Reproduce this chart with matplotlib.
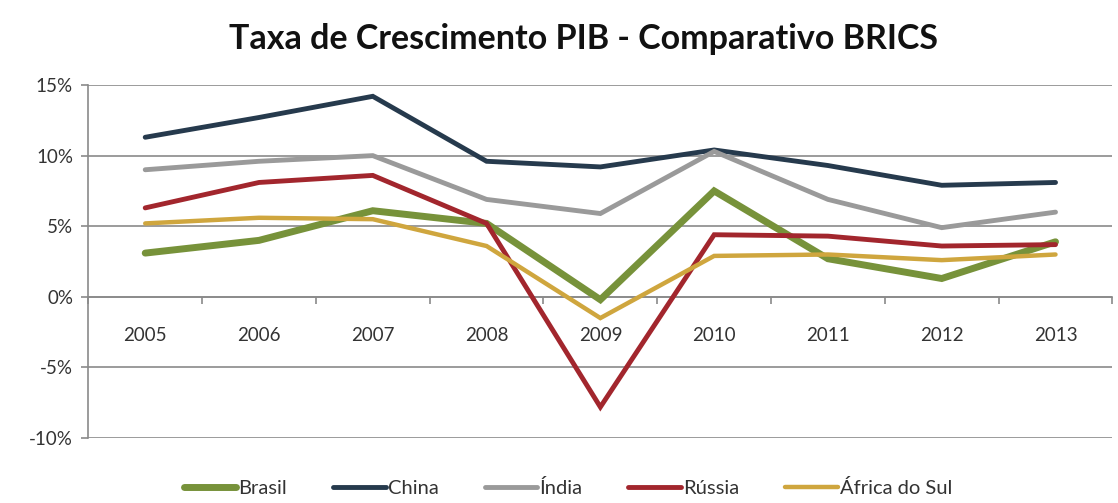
import matplotlib
matplotlib.use("Agg")
import matplotlib.pyplot as plt
from matplotlib.ticker import FuncFormatter, FixedLocator

plt.rcParams['font.family'] = ['Lato', 'DejaVu Sans']

anos = ['2005', '2006', '2007', '2008', '2009', '2010', '2011', '2012', '2013']
brasil = [3.1, 4.0, 6.1, 5.2, -0.2, 7.5, 2.7, 1.3, 3.9]
china = [11.3, 12.7, 14.2, 9.6, 9.2, 10.4, 9.3, 7.9, 8.1]
india = [9.0, 9.6, 10.0, 6.9, 5.9, 10.3, 6.9, 4.9, 6.0]
russia = [6.3, 8.1, 8.6, 5.2, -7.8, 4.4, 4.3, 3.6, 3.7]
africa = [5.2, 5.6, 5.5, 3.6, -1.5, 2.9, 3.0, 2.6, 3.0]

series = [
    ('Brasil', brasil, '#77923a', 5.0),
    ('China', china, '#263a4d', 3.5),
    ('Índia', india, '#9a9a9a', 3.5),
    ('Rússia', russia, '#a2262d', 3.5),
    ('África do Sul', africa, '#cfa63e', 3.2),
]

fig = plt.figure(figsize=(11.18, 5.03), dpi=100)
ax = fig.add_axes([0.079, 0.129, 0.916, 0.702])

x = list(range(len(anos)))
for nome, vals, cor, lw in series:
    ax.plot(x, vals, color=cor, lw=lw, label=nome, solid_capstyle='round',
            solid_joinstyle='miter', zorder=3)

ax.set_xlim(-0.5, len(anos) - 0.5)
ax.set_ylim(-10, 15)
ax.set_yticks([-10, -5, 0, 5, 10, 15])
ax.yaxis.set_major_formatter(FuncFormatter(lambda v, p: f'{int(v)}%'))
ax.grid(axis='y', color='#8a8a8a', lw=1.2, zorder=1)

ax.set_xticks(x)
ax.set_xticklabels(anos)
ax.xaxis.set_minor_locator(FixedLocator([i + 0.5 for i in range(-1, len(anos))]))
ax.tick_params(axis='x', which='major', length=0, pad=22, labelsize=13.5, labelcolor='#333333')
ax.tick_params(axis='x', which='minor', length=5, color='#8a8a8a', width=1.2)
ax.tick_params(axis='y', length=5, color='#8a8a8a', width=1.2, labelsize=13.5,
               labelcolor='#333333', pad=6)

for s in ['top', 'right']:
    ax.spines[s].set_visible(False)
ax.spines['bottom'].set_position(('data', 0))
ax.spines['bottom'].set_color('#8a8a8a')
ax.spines['bottom'].set_linewidth(1.2)
ax.spines['left'].set_color('#8a8a8a')
ax.spines['left'].set_linewidth(1.2)

fig.suptitle('Taxa de Crescimento PIB - Comparativo BRICS', fontsize=24.5,
             fontweight='bold', x=0.522, y=0.955, color='#111111')

fig.legend(loc='lower center', ncol=5, frameon=False, fontsize=14.5,
           handlelength=2.6, handletextpad=0.1, columnspacing=2.3,
           bbox_to_anchor=(0.508, -0.025), labelcolor='#333333')

fig.savefig('out.png', dpi=100, facecolor='white')
